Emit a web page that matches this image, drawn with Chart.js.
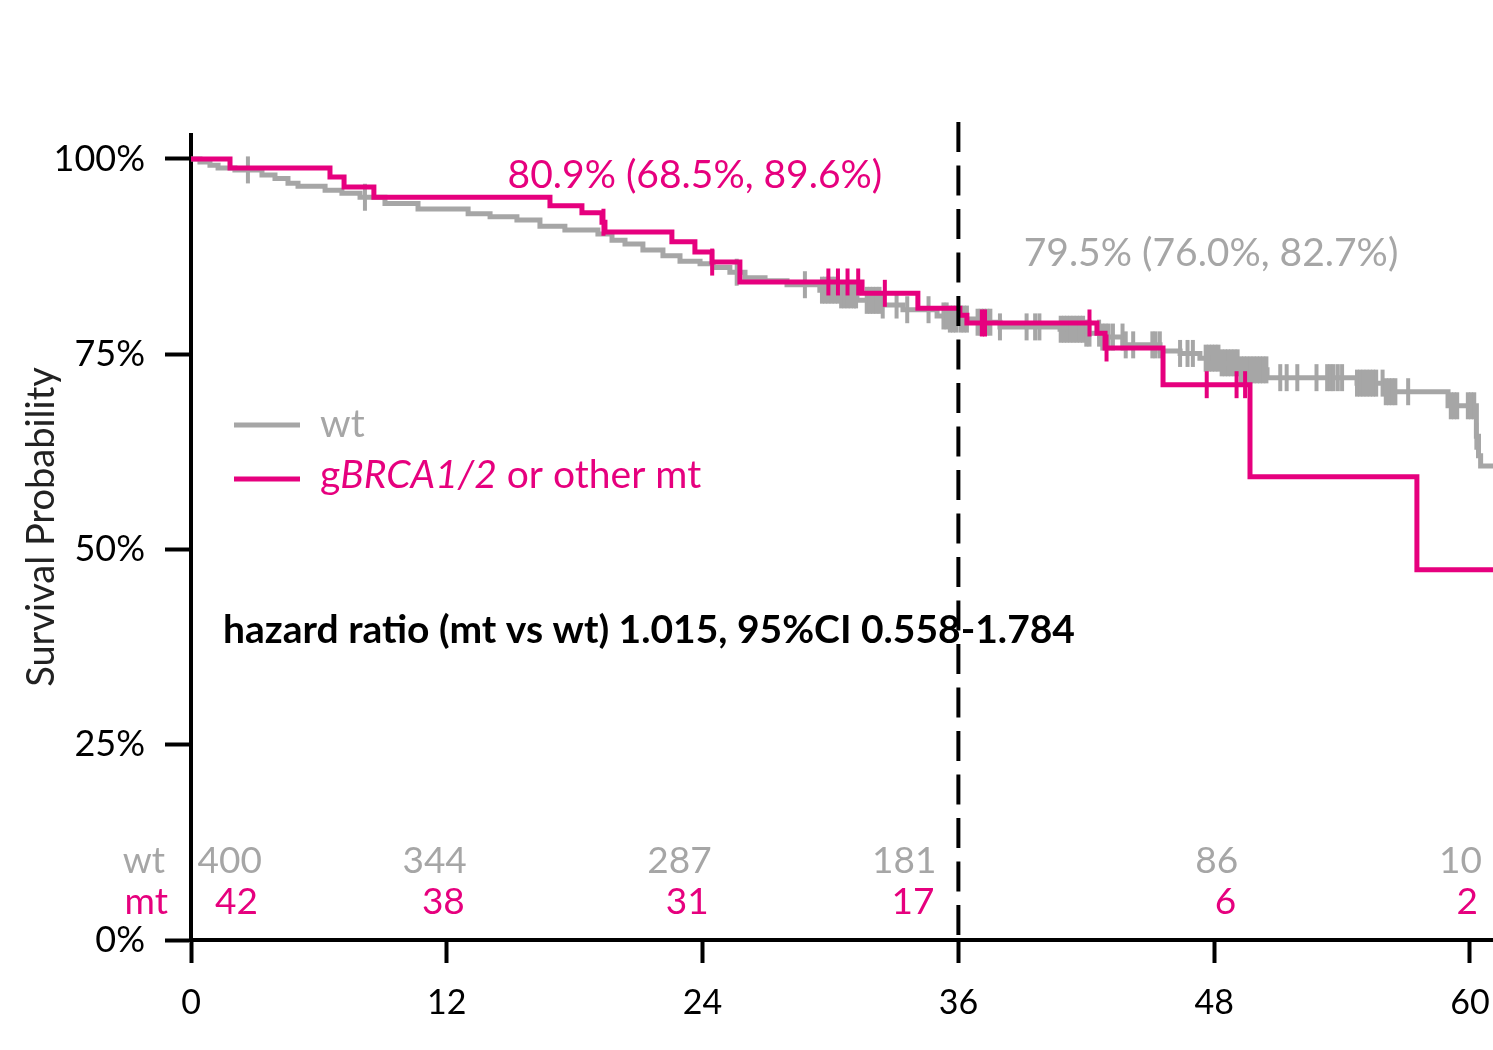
<!DOCTYPE html>
<html lang="en">
<head>
  <meta charset="UTF-8">
  <title>Survival by germline status</title>
  <script src="https://cdn.jsdelivr.net/npm/chart.js@4.4.2/dist/chart.umd.min.js"></script>
  <style>
    body { margin: 0; padding: 0; background: #fff; }
    canvas { display: block; }
  </style>
</head>
<body>
  <canvas id="km" width="1493" height="1050"></canvas>

  <script>
    // wt curve: month of each step and survival (%) after it
    const wtTime = [0, 0.42, 0.89, 1.27, 2.06, 3.33, 3.94, 4.55, 5.02, 6.29, 7.08, 7.93, 9.10, 10.65, 13.0, 14.03, 15.29, 16.37, 17.54, 19.09, 19.75, 20.36, 21.2, 22.14, 22.94, 23.88, 24.49, 25.28, 25.99, 26.93, 27.96, 29.5, 30.45, 31.24, 32.32, 33.4, 35.0, 35.6, 36.78, 37.95, 40.77, 41.94, 42.64, 43.72, 45.46, 46.4, 47.33, 48.27, 49.21, 50.48, 54.7, 56.0, 58.97, 60.3, 60.4, 60.5];
    const wtSurv = [100, 99.6, 99.2, 98.85, 98.6, 97.95, 97.5, 96.9, 96.5, 96.0, 95.6, 95.1, 94.3, 93.6, 93.0, 92.6, 92.2, 91.4, 90.9, 90.4, 89.6, 89.1, 88.35, 87.6, 86.9, 86.6, 86.1, 85.5, 84.8, 84.4, 83.9, 83.2, 82.6, 81.9, 81.3, 80.7, 79.9, 79.5, 79.1, 78.5, 78.2, 77.7, 77.2, 76.2, 75.4, 75.1, 74.5, 73.9, 73.0, 72.0, 71.3, 70.2, 68.4, 64.5, 62.0, 60.7];
    const wtCensor = [2.67, 8.16, 25.6, 28.8,
      29.6, 29.75, 29.9, 30.05, 30.2, 30.35, 30.5, 30.65, 30.8, 30.95, 31.1, 31.2,
      31.7, 31.85, 32.0, 32.15, 32.3, 32.45, 33.1, 33.6, 34.6,
      35.3, 35.45, 35.6, 35.75, 35.9, 36.1, 36.25, 36.4, 36.9, 37.05, 37.2, 37.35, 37.5,
      37.95, 39.2, 39.6, 39.8,
      40.8, 40.95, 41.1, 41.25, 41.4, 41.55, 41.7, 41.85, 42.0, 42.15,
      42.6, 42.75, 42.9, 43.05, 43.25, 43.7, 43.85, 44.2, 45.1, 45.25, 45.45,
      46.4, 46.75, 47.0,
      47.6, 47.75, 47.9, 48.05, 48.2, 48.35, 48.5, 48.65, 48.8, 48.95, 49.1, 49.25, 49.4, 49.55, 49.7, 49.85, 50.0, 50.15, 50.3, 50.45,
      51.1, 51.4, 51.9, 52.8, 53.3, 53.45, 53.6, 53.8, 54.0,
      54.7, 54.85, 55.0, 55.15, 55.3, 55.45, 55.6, 55.9, 56.05, 56.2, 56.35, 56.5,
      57.1, 59.1, 59.25, 59.4, 59.9, 60.05, 60.2, 60.3];

    // mt curve
    const mtTime = [0, 1.83, 6.52, 7.18, 8.58, 16.84, 18.34, 19.28, 19.42, 22.56, 23.64, 24.44, 25.75, 31.48, 34.10, 36.07, 36.40, 42.5, 42.88, 45.6, 49.68, 57.51];
    const mtSurv = [100, 98.85, 97.7, 96.4, 95.1, 94.0, 93.1, 91.9, 90.65, 89.4, 88.1, 86.8, 84.25, 82.8, 80.9, 80.0, 79.0, 77.7, 75.8, 71.1, 59.3, 47.4];
    const mtCensor = [19.35, 24.45, 29.9, 30.35, 30.8, 31.3, 32.55, 37.1, 37.25, 42.15, 42.95, 47.65, 49.05, 49.45];

    // number at risk
    const riskTimes = [0, 12, 24, 36, 48, 60];
    const riskWt = [400, 344, 287, 181, 86, 10];
    const riskMt = [42, 38, 31, 17, 6, 2];

    const xTicks = [0, 12, 24, 36, 48, 60];
    const yTicks = [0, 25, 50, 75, 100];
    const xEnd = 61.08;
    const landmark = 36;

    const pink = '#e6007e';
    const grey = '#a6a6a6';
    const FONT = 'Lato';

    function survAt(times, surv, t) {
      let v = surv[0];
      for (let i = 0; i < times.length; i++) {
        if (times[i] <= t) v = surv[i];
      }
      return v;
    }

    function curve(times, surv) {
      const pts = times.map((t, i) => ({ x: t, y: surv[i] }));
      pts.push({ x: xEnd, y: surv[surv.length - 1] });
      return pts;
    }

    function marks(times, surv, cens) {
      return cens.map(t => ({ x: t, y: survAt(times, surv, t) }));
    }

    const overlay = {
      id: 'overlay',
      afterDraw(chart) {
        const ctx = chart.ctx;
        const xs = chart.scales.x, ys = chart.scales.y;
        ctx.save();

        // landmark line at 36 months
        const lx = xs.getPixelForValue(landmark);
        ctx.strokeStyle = '#000';
        ctx.lineWidth = 4;
        ctx.setLineDash([30, 13.5]);
        ctx.beginPath();
        ctx.moveTo(lx, 122);
        ctx.lineTo(lx, ys.getPixelForValue(0));
        ctx.stroke();
        ctx.setLineDash([]);

        // estimates at 36 months
        ctx.textBaseline = 'middle';
        ctx.textAlign = 'center';
        ctx.font = `39px ${FONT}`;
        ctx.fillStyle = pink;
        ctx.fillText('80.9% (68.5%, 89.6%)', xs.getPixelForValue(23.64), ys.getPixelForValue(97.95));
        ctx.fillStyle = grey;
        ctx.fillText('79.5% (76.0%, 82.7%)', xs.getPixelForValue(47.85), ys.getPixelForValue(87.96));

        // legend
        ctx.lineWidth = 5;
        ctx.strokeStyle = grey;
        ctx.beginPath(); ctx.moveTo(234, 425); ctx.lineTo(300, 425); ctx.stroke();
        ctx.strokeStyle = pink;
        ctx.beginPath(); ctx.moveTo(234, 479); ctx.lineTo(300, 479); ctx.stroke();
        ctx.textAlign = 'left';
        ctx.fillStyle = grey;
        ctx.font = `39px ${FONT}`;
        ctx.fillText('wt', 320, 424);
        ctx.fillStyle = pink;
        let lxp = 320;
        ctx.fillText('g', lxp, 475);
        lxp += ctx.measureText('g').width;
        ctx.font = `italic 39px ${FONT}`;
        ctx.fillText('BRCA1/2', lxp, 475);
        lxp += ctx.measureText('BRCA1/2').width;
        ctx.font = `39px ${FONT}`;
        ctx.fillText(' or other mt', lxp, 475);

        // hazard ratio
        ctx.fillStyle = '#000';
        ctx.font = `bold 39px ${FONT}`;
        ctx.fillText('hazard ratio (mt vs wt) 1.015, 95%CI 0.558-1.784', 223, 630);

        // numbers at risk
        const dxWt = [71, 20, 9, -22, 24, 12];
        const dxMt = [67, 18, 6, -24, 22, 8];
        ctx.textAlign = 'right';
        ctx.font = `37px ${FONT}`;
        ctx.fillStyle = grey;
        ctx.fillText('wt', 165, 861);
        riskWt.forEach((n, i) => ctx.fillText(String(n), xs.getPixelForValue(riskTimes[i]) + dxWt[i], 861));
        ctx.fillStyle = pink;
        ctx.fillText('mt', 168, 902);
        riskMt.forEach((n, i) => ctx.fillText(String(n), xs.getPixelForValue(riskTimes[i]) + dxMt[i], 902));

        // y axis title
        ctx.translate(42, 527);
        ctx.rotate(-Math.PI / 2);
        ctx.textAlign = 'center';
        ctx.fillStyle = '#222';
        ctx.font = `38px ${FONT}`;
        ctx.fillText('Survival Probability', 0, 0);

        ctx.restore();
      }
    };

    const tickStyle = { rotation: 90, pointStyle: 'line', pointRadius: 13.5, pointBorderWidth: 4, showLine: false, type: 'scatter' };

    new Chart(document.getElementById('km'), {
      type: 'line',
      data: {
        datasets: [
          { label: 'mt censor', data: marks(mtTime, mtSurv, mtCensor), borderColor: pink, pointBorderColor: pink, ...tickStyle },
          { label: 'gBRCA1/2 or other mt', data: curve(mtTime, mtSurv), borderColor: pink, borderWidth: 5, stepped: true, pointRadius: 0, fill: false },
          { label: 'wt censor', data: marks(wtTime, wtSurv, wtCensor), borderColor: grey, pointBorderColor: grey, ...tickStyle },
          { label: 'wt', data: curve(wtTime, wtSurv), borderColor: grey, borderWidth: 5, stepped: true, pointRadius: 0, fill: false }
        ]
      },
      options: {
        responsive: false,
        animation: false,
        devicePixelRatio: 1,
        layout: { autoPadding: false, padding: { top: 135, left: 0, right: 0, bottom: 0 } },
        plugins: { legend: { display: false }, tooltip: { enabled: false } },
        scales: {
          x: {
            type: 'linear', min: 0, max: xEnd,
            afterBuildTicks: s => { s.ticks = xTicks.map(v => ({ value: v })); },
            afterFit: s => { s.height = 110; s.paddingLeft = 0; s.paddingRight = 0; },
            ticks: { color: '#000', font: { family: FONT, size: 34 }, padding: 20, maxRotation: 0, autoSkip: false },
            grid: { drawOnChartArea: false, drawTicks: true, tickLength: 23, tickWidth: 4, tickColor: '#000' },
            border: { display: true, color: '#000', width: 4 }
          },
          y: {
            type: 'linear', min: 0, max: 103.07,
            afterBuildTicks: s => { s.ticks = yTicks.map(v => ({ value: v })); },
            afterFit: s => { s.width = 191; s.paddingTop = 0; s.paddingBottom = 0; },
            ticks: { color: '#000', font: { family: FONT, size: 36 }, padding: 20, callback: v => v + '%' },
            grid: { drawOnChartArea: false, drawTicks: true, tickLength: 26, tickWidth: 4, tickColor: '#000' },
            border: { display: true, color: '#000', width: 4 }
          }
        }
      },
      plugins: [overlay]
    });
  </script>
</body>
</html>
